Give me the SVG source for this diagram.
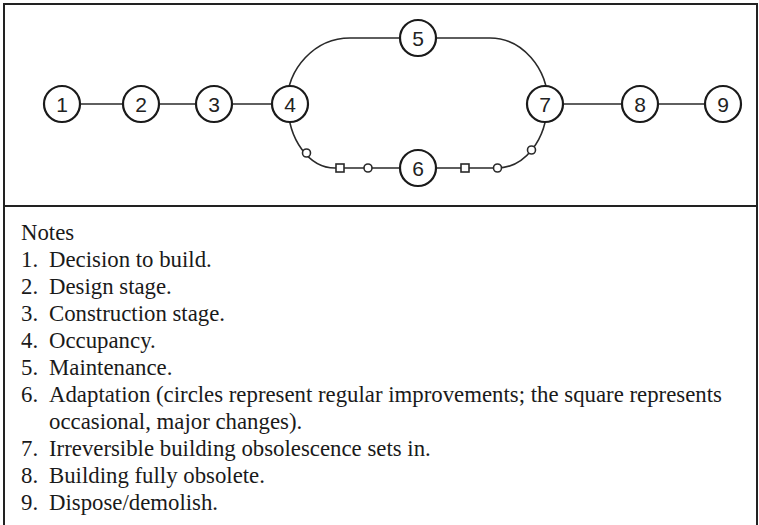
<svg xmlns="http://www.w3.org/2000/svg" width="759" height="525" viewBox="0 0 759 525">
<style>
.frame{fill:none;stroke:#222;stroke-width:2}
.conn{fill:none;stroke:#2a2a2a;stroke-width:1.6}
.node{fill:#fff;stroke:#1a1a1a;stroke-width:2.2}
.num{font-family:"Liberation Sans",Arial,sans-serif;font-size:21px;fill:#222;text-anchor:middle}
.mark{fill:#fff;stroke:#2a2a2a;stroke-width:1.6}
.note{font-family:"Liberation Serif","Times New Roman",serif;font-size:22.8px;fill:#1a1a1a}
</style>
<rect width="759" height="525" fill="#fff"/>
<rect class="frame" x="4" y="4" width="753" height="530"/>
<line class="frame" x1="4" y1="206" x2="757" y2="206"/>
<g id="connectors">
<line class="conn" x1="62" y1="104" x2="290" y2="104"/>
<line class="conn" x1="545" y1="104" x2="723" y2="104"/>
<path class="conn" d="M287 104 C287 68.1 315.2 38 350 38 L490 38 C522 38 548 68.1 548 104"/>
<path class="conn" d="M288 104 C288 139.3 309 168 335 168 L497 168 C524.6 168 547 139.3 547 104"/>
<circle class="mark" cx="306.5" cy="153" r="4"/>
<circle class="mark" cx="368" cy="168" r="4"/>
<circle class="mark" cx="497.5" cy="168" r="4"/>
<circle class="mark" cx="531.5" cy="150" r="4"/>
<rect class="mark" x="336" y="164" width="8" height="8"/>
<rect class="mark" x="461" y="164" width="8" height="8"/>
</g>
<g id="n1"><circle class="node" cx="62" cy="104" r="18"/><text class="num" x="62" y="111.5">1</text></g>
<g id="n2"><circle class="node" cx="141" cy="104" r="18"/><text class="num" x="141" y="111.5">2</text></g>
<g id="n3"><circle class="node" cx="214" cy="104" r="18"/><text class="num" x="214" y="111.5">3</text></g>
<g id="n4"><circle class="node" cx="290" cy="104" r="18"/><text class="num" x="290" y="111.5">4</text></g>
<g id="n5"><circle class="node" cx="418" cy="38" r="18"/><text class="num" x="418" y="45.5">5</text></g>
<g id="n6"><circle class="node" cx="418" cy="168" r="18"/><text class="num" x="418" y="175.5">6</text></g>
<g id="n7"><circle class="node" cx="545" cy="104" r="18"/><text class="num" x="545" y="111.5">7</text></g>
<g id="n8"><circle class="node" cx="640" cy="104" r="18"/><text class="num" x="640" y="111.5">8</text></g>
<g id="n9"><circle class="node" cx="723" cy="104" r="18"/><text class="num" x="723" y="111.5">9</text></g>
<g id="notes" class="note">
<text x="21" y="240">Notes</text>
<text x="21" y="267">1.</text><text x="49" y="267">Decision to build.</text>
<text x="21" y="294">2.</text><text x="49" y="294">Design stage.</text>
<text x="21" y="321">3.</text><text x="49" y="321">Construction stage.</text>
<text x="21" y="348">4.</text><text x="49" y="348">Occupancy.</text>
<text x="21" y="375">5.</text><text x="49" y="375">Maintenance.</text>
<text x="21" y="402">6.</text><text x="49" y="402">Adaptation (circles represent regular improvements; the square represents</text>
<text x="49" y="429">occasional, major changes).</text>
<text x="21" y="456">7.</text><text x="49" y="456">Irreversible building obsolescence sets in.</text>
<text x="21" y="483">8.</text><text x="49" y="483">Building fully obsolete.</text>
<text x="21" y="510">9.</text><text x="49" y="510">Dispose/demolish.</text>
</g>
</svg>
